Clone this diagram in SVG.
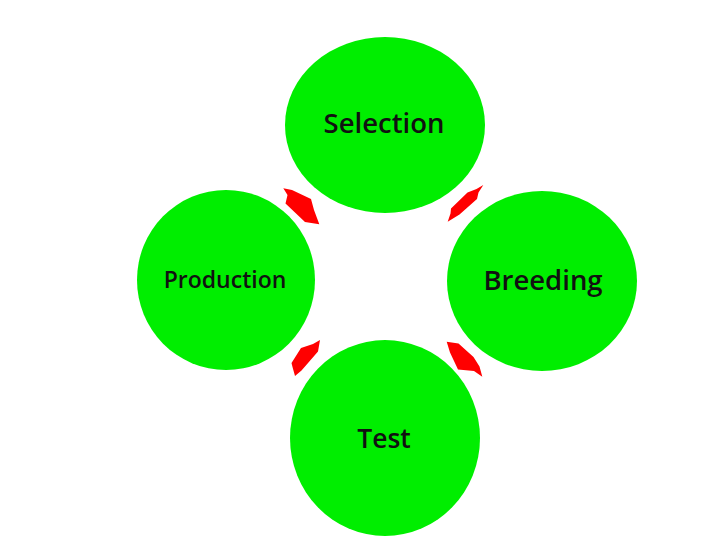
<svg xmlns="http://www.w3.org/2000/svg" width="720" height="540" viewBox="0 0 720 540">
<style>
.n{fill:#00ee00}
.t{font-family:"Open Sans","Noto Sans",sans-serif;fill:#111;text-anchor:middle;font-weight:600}
.a{fill:#ff0000}
</style>
<rect width="720" height="540" fill="#fff"/>
<g id="selection"><ellipse class="n" cx="385" cy="125" rx="100" ry="88"/><text class="t" x="384" y="133" font-size="27.5">Selection</text></g>
<g id="production"><ellipse class="n" cx="226" cy="280" rx="89" ry="90"/><text class="t" x="225" y="288" font-size="23" font-weight="500">Production</text></g>
<g id="breeding"><ellipse class="n" cx="542" cy="281" rx="95" ry="90"/><text class="t" x="543" y="290" font-size="27.5" font-weight="500">Breeding</text></g>
<g id="test"><ellipse class="n" cx="385" cy="438" rx="95" ry="98"/><text class="t" x="384" y="448" font-size="26.5" font-weight="500">Test</text></g>
<g id="connectors">
<polygon class="a" points="283.3,188.3 292,190 311,199 314,210 319.3,224.3 305,222 285.5,203.5 287.5,195"/>
<polygon class="a" points="483.3,185 478.5,192.5 477,199 459.5,214.5 447.7,221.7 450.5,213.5 451,208.5 467.5,192.5 476.5,189"/>
<polygon class="a" points="320,340 318,351.5 301.5,370.5 295,376 292.5,367 291.5,363 301,348 313,344"/>
<polygon class="a" points="446.7,341.7 458.5,343.5 473.5,357 479.5,366.5 482.3,376.7 474,371 458,369.5 450,352.5"/>
</g>
</svg>
